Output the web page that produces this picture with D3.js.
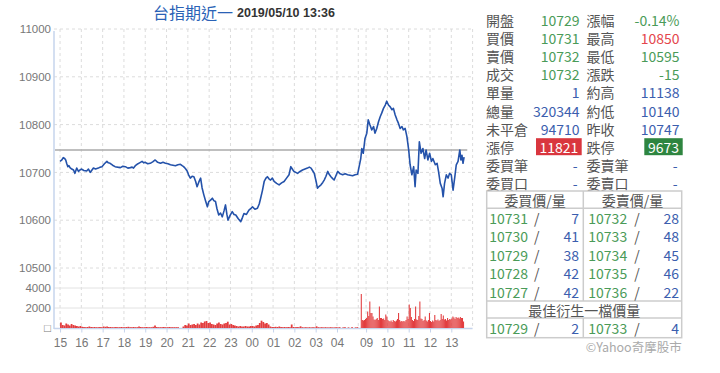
<!DOCTYPE html>
<html>
<head>
<meta charset="utf-8">
<script src="https://cdn.jsdelivr.net/npm/d3@7"></script>
<style>
    body { margin: 0; background: #fff; }
    svg text { font-family: "Liberation Sans", Arial, sans-serif; }
    .cjk { font-family: "Noto Sans CJK TC", "Noto Sans CJK SC", sans-serif !important; }
    .axis text { fill: #777; font-size: 11.5px; }
    .axis line { stroke: #c6d4ec; }
    .axis path { display: none; }
</style>
</head>
<body>
<svg id="chart" width="720" height="373"></svg>
<script>
// ---- chart data ----
const titleName = "台指期近一";
const titleTime = "2019/05/10 13:36";

const nightHours = ["15", "16", "17", "18", "19", "20", "21", "22", "23", "00", "01", "02", "03", "04"];
const dayHours = ["09", "10", "11", "12", "13"];
const priceTicks = [10500, 10600, 10700, 10800, 10900, 11000];
const volumeTicks = [2000, 4000];
const prevClose = 10747;

// [minutes after 15:00, price]
const nightPrice = [
    [0, 10723], [5, 10726], [9, 10731], [13, 10729], [16, 10726], [19, 10718], [22, 10712], [25, 10714],
    [28, 10710], [33, 10707], [38, 10705], [42, 10698], [47, 10709], [52, 10702], [56, 10705], [61, 10707],
    [67, 10704], [75, 10703], [80, 10707], [85, 10700], [94, 10709], [100, 10707], [108, 10709], [113, 10711],
    [118, 10712], [125, 10718], [132, 10723], [136, 10720], [141, 10719], [148, 10715], [155, 10712], [162, 10711],
    [170, 10710], [177, 10713], [184, 10712], [191, 10709], [198, 10710], [203, 10711], [207, 10709], [212, 10714],
    [217, 10717], [224, 10720], [231, 10723], [236, 10720], [240, 10721], [247, 10718], [254, 10719], [261, 10722],
    [268, 10726], [275, 10721], [283, 10719], [290, 10721], [297, 10719], [304, 10718], [311, 10716], [318, 10715],
    [325, 10714], [332, 10716], [339, 10717], [344, 10714], [348, 10712], [353, 10708], [358, 10703], [362, 10695],
    [367, 10688], [372, 10692], [377, 10691], [382, 10681], [386, 10670], [391, 10680], [396, 10688], [400, 10668],
    [405, 10653], [410, 10640], [415, 10628], [419, 10639], [424, 10642], [429, 10646], [433, 10641], [438, 10639],
    [442, 10624], [447, 10611], [452, 10615], [457, 10607], [462, 10620], [466, 10632], [470, 10612], [473, 10600],
    [479, 10610], [485, 10618], [490, 10612], [495, 10611], [502, 10603], [509, 10597], [514, 10606], [518, 10614],
    [525, 10612], [532, 10621], [537, 10624], [542, 10628], [549, 10623], [556, 10625], [561, 10634], [565, 10646],
    [570, 10662], [575, 10681], [580, 10688], [584, 10691], [589, 10686], [593, 10684], [598, 10688], [603, 10681],
    [610, 10677], [617, 10674], [624, 10678], [631, 10681], [638, 10688], [645, 10695], [650, 10712], [655, 10706],
    [659, 10702], [664, 10700], [669, 10698], [676, 10702], [683, 10705], [690, 10707], [697, 10709], [702, 10711],
    [707, 10709], [712, 10703], [716, 10698], [721, 10682], [725, 10667], [730, 10671], [735, 10674], [740, 10679],
    [744, 10684], [749, 10692], [754, 10702], [758, 10696], [763, 10691], [768, 10687], [772, 10684], [777, 10693],
    [782, 10702], [789, 10697], [796, 10695], [803, 10697], [810, 10695], [817, 10694], [824, 10693], [831, 10695],
    [838, 10696]
];

// [minutes after 08:45, price]
const dayPrice = [
    [0, 10729], [3, 10750], [7, 10740], [12, 10771], [17, 10782], [21, 10810], [26, 10799], [31, 10789],
    [36, 10796], [40, 10782], [45, 10792], [50, 10806], [55, 10817], [59, 10824], [64, 10834], [69, 10841],
    [73, 10849], [78, 10841], [83, 10837], [88, 10831], [92, 10834], [97, 10820], [102, 10810], [106, 10803],
    [111, 10792], [116, 10796], [120, 10789], [125, 10792], [130, 10775], [135, 10747], [139, 10716], [144, 10695],
    [149, 10712], [153, 10670], [156, 10705], [161, 10698], [165, 10764], [170, 10740], [175, 10750], [180, 10729],
    [184, 10747], [189, 10726], [194, 10740], [199, 10723], [203, 10729], [210, 10716], [215, 10719], [219, 10702],
    [224, 10677], [229, 10667], [232, 10649], [236, 10677], [241, 10695], [246, 10688], [250, 10698], [255, 10695],
    [260, 10663], [265, 10691], [269, 10716], [274, 10723], [279, 10747], [282, 10726], [285, 10736], [288, 10719],
    [291, 10732]
];

// night volume, 5-minute bins from 15:00
const nightVolume = [
    550, 300, 250, 450, 350, 250, 400, 300, 250, 200, 150, 200,
    120, 100, 80, 100, 150, 100, 80, 100, 80, 80, 100, 80,
    150, 120, 150, 100, 100, 80, 80, 100, 80, 80, 100, 80,
    80, 100, 120, 80, 80, 100, 80, 80, 150, 100, 80, 80,
    100, 80, 80, 80, 120, 250, 100, 80, 80, 80, 100, 80,
    80, 100, 80, 80, 80, 80, 80, 0, 0, 150, 300, 250,
    450, 300, 350, 400, 300, 450, 350, 550, 500, 650, 700, 500,
    550, 400, 350, 300, 450, 550, 400, 350, 450, 500, 630, 350,
    400, 300, 250, 200, 150, 200, 150, 150, 200, 150, 150, 200,
    200, 150, 250, 300, 500, 730, 600, 450, 500, 350, 150, 100,
    100, 120, 100, 150, 100, 80, 100, 80, 100, 80, 350, 100,
    80, 100, 80, 170, 80, 60, 80, 60, 80, 60, 80, 60,
    170, 80, 60, 80, 60, 80, 60, 60, 80, 60, 60, 80,
    60, 80, 0, 60, 80, 0, 60, 0, 80, 0, 60, 80
];

// day volume, 3-minute bins from 08:45
const dayVolume = [
    3400, 800, 750, 800, 900, 1000, 1650, 1200, 2650, 1500, 1500, 1150,
    850, 800, 900, 1000, 800, 2150, 1000, 1000, 900, 950, 800, 1350,
    1150, 800, 700, 650, 750, 600, 800, 700, 650, 750, 900, 1500,
    800, 650, 700, 650, 700, 650, 800, 1150, 900, 2350, 2000, 1100,
    800, 700, 900, 2150, 850, 800, 1200, 2650, 950, 900, 700, 800,
    1150, 750, 650, 800, 1500, 700, 600, 750, 650, 1300, 800, 750,
    850, 700, 800, 1400, 900, 1250, 850, 900, 750, 1000, 800, 900,
    850, 950, 1150, 1050, 900, 1100, 1000, 1050, 950, 1100, 1000, 1000,
    650
];

// quote panel
const quoteLabels = [["開盤", "漲幅"], ["買價", "最高"], ["賣價", "最低"], ["成交", "漲跌"],
    ["單量", "約高"], ["總量", "約低"], ["未平倉", "昨收"]];
const quoteValues = [["10729", "-0.14%"], ["10731", "10850"], ["10732", "10595"], ["10732", "-15"],
    ["1", "11138"], ["320344", "10140"], ["94710", "10747"]];
// p: price vs previous close, c: signed change, n: plain number
const quoteKinds = [["p", "c"], ["p", "p"], ["p", "p"], ["p", "c"], ["n", "n"], ["n", "n"], ["n", "n"]];
const limitLabels = ["漲停", "跌停"];
const limitValues = ["11821", "9673"];
const orderLabels = [["委買筆", "委賣筆"], ["委買口", "委賣口"]];
const orderValues = [["-", "-"], ["-", "-"]];

const bookHeaders = ["委買價/量", "委賣價/量"];
const bidPrices = [10731, 10730, 10729, 10728, 10727];
const bidQty = [7, 41, 38, 42, 42];
const askPrices = [10732, 10733, 10734, 10735, 10736];
const askQty = [28, 48, 45, 46, 22];
const bestTitle = "最佳衍生一檔價量";
const bestBid = [10729, 2];
const bestAsk = [10733, 4];
const credit = "©Yahoo奇摩股市";

// ---- drawing ----
const NIGHT_MINUTES = 840;   // 15:00 -> 05:00
const DAY_START = 847;       // 08:45 on the shared time axis
const DAY_END = 1162;        // 14:00
const GREEN = "#4a9b58", RED = "#e4464c", BLUE = "#3b5eae", LABEL = "#555";

const svg = d3.select("#chart");

const x = d3.scaleLinear().domain([-17, DAY_END]).range([54, 472.6]);
const yPrice = d3.scaleLinear().domain([10500, 11000]).range([268, 29]);
const yVol = d3.scaleLinear().domain([0, 6000]).range([328, 268]);

const hourTicks = nightHours.map((h, i) => ({ t: i * 60, label: h }))
    .concat(dayHours.map((h, i) => ({ t: DAY_START + 15 + i * 60, label: h })));
const gridTimes = hourTicks.map(d => d.t).concat([NIGHT_MINUTES, DAY_END]);

// grid
const grid = svg.append("g");
grid.selectAll(".vgrid")
    .data(gridTimes)
    .join("line")
    .attr("x1", d => x(d)).attr("x2", d => x(d))
    .attr("y1", yPrice(11000)).attr("y2", yVol(0))
    .attr("stroke", "#dcdcdc").attr("stroke-dasharray", "3,3");

grid.selectAll(".hgrid")
    .data(priceTicks)
    .join("line")
    .attr("x1", x.range()[0]).attr("x2", x.range()[1])
    .attr("y1", d => yPrice(d)).attr("y2", d => yPrice(d))
    .attr("stroke", "#dcdcdc").attr("stroke-dasharray", "3,3");

grid.selectAll(".vgridline")
    .data(volumeTicks)
    .join("line")
    .attr("x1", x.range()[0]).attr("x2", x.range()[1])
    .attr("y1", d => yVol(d)).attr("y2", d => yVol(d))
    .attr("stroke", "#e2e2e2");

// axes
svg.append("g")
    .attr("class", "axis")
    .attr("transform", `translate(${x.range()[0]},0)`)
    .call(d3.axisLeft(yPrice).tickValues(priceTicks).tickSize(0).tickPadding(3).tickFormat(d3.format("d")));

svg.append("g")
    .attr("class", "axis")
    .attr("transform", `translate(${x.range()[0]},0)`)
    .call(d3.axisLeft(yVol).tickValues(volumeTicks.concat([0])).tickSize(0).tickPadding(3)
        .tickFormat(d => d === 0 ? "□" : d));

svg.append("g")
    .attr("class", "axis")
    .attr("transform", `translate(0,${yVol(0) + 0.5})`)
    .call(d3.axisBottom(x).tickValues(hourTicks.map(d => d.t)).tickSize(4).tickPadding(6)
        .tickFormat((d, i) => hourTicks[i].label))
    .selectAll("text").style("font-size", "12px");

svg.append("line")
    .attr("x1", x.range()[0]).attr("x2", x.range()[0])
    .attr("y1", yPrice(11000) + 2).attr("y2", yVol(0) + 1)
    .attr("stroke", "#c6d4ec").attr("stroke-width", 1.5);
svg.append("line")
    .attr("x1", x.range()[0]).attr("x2", x.range()[1])
    .attr("y1", yVol(0) + 0.5).attr("y2", yVol(0) + 0.5)
    .attr("stroke", "#c6d4ec").attr("stroke-width", 1.5);

// volume bars
const volBars = nightVolume.map((v, i) => ({ t0: i * 5, t1: i * 5 + 5, v }))
    .concat(dayVolume.map((v, i) => ({ t0: DAY_START + i * 3, t1: DAY_START + i * 3 + 3, v })));

svg.append("g")
    .selectAll("rect")
    .data(volBars.filter(d => d.v > 0))
    .join("rect")
    .attr("x", d => x(d.t0))
    .attr("width", d => x(d.t1) - x(d.t0))
    .attr("y", d => yVol(d.v))
    .attr("height", d => yVol(0) - yVol(d.v))
    .attr("fill", "#e23d3f");

// previous close
svg.append("line")
    .attr("x1", x.range()[0] + 1).attr("x2", x(DAY_START + 300))
    .attr("y1", yPrice(prevClose)).attr("y2", yPrice(prevClose))
    .attr("stroke", "#aaa").attr("stroke-width", 1.5);

// price line
const pricePoints = nightPrice.map(d => [d[0], d[1]])
    .concat(dayPrice.map(d => [DAY_START + d[0], d[1]]));

svg.append("path")
    .datum(pricePoints)
    .attr("fill", "none")
    .attr("stroke", "#2452aa")
    .attr("stroke-width", 1.6)
    .attr("stroke-linejoin", "round")
    .attr("d", d3.line().x(d => x(d[0])).y(d => yPrice(d[1])));

// title
svg.append("text")
    .attr("class", "cjk")
    .attr("x", 153).attr("y", 12)
    .attr("dominant-baseline", "central")
    .attr("fill", "#2a62b6")
    .style("font-size", "16px")
    .text(titleName);
svg.append("text")
    .attr("x", 237).attr("y", 12.5)
    .attr("dominant-baseline", "central")
    .attr("fill", "#333")
    .style("font-size", "12.5px")
    .style("font-weight", "bold")
    .text(titleTime);

// quote panel
function valueColor(kind, value) {
    if (kind === "n") return BLUE;
    const num = parseFloat(value);
    if (kind === "c") return num < 0 ? GREEN : num > 0 ? RED : LABEL;
    return num < prevClose ? GREEN : num > prevClose ? RED : LABEL;
}

const panel = svg.append("g").attr("class", "panel");
const rowY = i => 20 + i * 18.1;
const colLabel = [486, 586.5];
const colValue = [579.5, 679.5];

function panelText(px, py, txt, color, anchor) {
    return panel.append("text")
        .attr("class", "cjk")
        .attr("x", px).attr("y", py)
        .attr("dominant-baseline", "central")
        .attr("text-anchor", anchor || "start")
        .attr("fill", color)
        .style("font-size", "14px")
        .text(txt);
}

quoteLabels.forEach((row, i) => {
    row.forEach((lab, j) => {
        panelText(colLabel[j], rowY(i), lab, LABEL);
        panelText(colValue[j], rowY(i), quoteValues[i][j], valueColor(quoteKinds[i][j], quoteValues[i][j]), "end");
    });
});

const limitBoxes = [[536, 581.7, "#d9363e"], [644.3, 682.7, "#2e8540"]];
limitLabels.forEach((lab, j) => {
    const yy = rowY(7);
    panelText(colLabel[j], yy, lab, LABEL);
    panel.append("rect")
        .attr("x", limitBoxes[j][0]).attr("y", yy - 8.5)
        .attr("width", limitBoxes[j][1] - limitBoxes[j][0]).attr("height", 17)
        .attr("fill", limitBoxes[j][2]);
    panelText((limitBoxes[j][0] + limitBoxes[j][1]) / 2, yy, limitValues[j], "#fff", "middle");
});

orderLabels.forEach((row, i) => {
    row.forEach((lab, j) => {
        panelText(colLabel[j], rowY(8 + i), lab, LABEL);
        panelText(colValue[j] - 2, rowY(8 + i), orderValues[i][j], BLUE, "end");
    });
});

// order book table
const tx0 = 486.7, txm = 583.3, tx1 = 681.7;
const headTop = 191, headBottom = 208.3, bookBottom = 301, bestBottom = 318, tableBottom = 337.7;
const bookRowH = (bookBottom - headBottom) / bidPrices.length;
const border = "#cccccc";

const tbl = panel.append("g");
tbl.append("rect")
    .attr("x", tx0).attr("y", headTop)
    .attr("width", tx1 - tx0).attr("height", tableBottom - headTop)
    .attr("fill", "none").attr("stroke", border).attr("stroke-width", 1.5);
[headBottom, bookBottom, bestBottom].forEach(yy => {
    tbl.append("line").attr("x1", tx0).attr("x2", tx1).attr("y1", yy).attr("y2", yy)
        .attr("stroke", border).attr("stroke-width", 1.5);
});
[[headTop, bookBottom], [bestBottom, tableBottom]].forEach(seg => {
    tbl.append("line").attr("x1", txm).attr("x2", txm).attr("y1", seg[0]).attr("y2", seg[1])
        .attr("stroke", border).attr("stroke-width", 1.5);
});

panelText((tx0 + txm) / 2, (headTop + headBottom) / 2, bookHeaders[0], LABEL, "middle");
panelText((txm + tx1) / 2, (headTop + headBottom) / 2, bookHeaders[1], LABEL, "middle");

function bookRow(yy, bid, bq, ask, aq) {
    panelText(tx0 + 2.5, yy, bid, valueColor("p", bid));
    panelText(536.7, yy, "/", LABEL, "middle");
    panelText(579, yy, bq, BLUE, "end");
    panelText(txm + 5, yy, ask, valueColor("p", ask));
    panelText(637, yy, "/", LABEL, "middle");
    panelText(679, yy, aq, BLUE, "end");
}

bidPrices.forEach((p, i) => {
    bookRow(headBottom + bookRowH * (i + 0.5), p, bidQty[i], askPrices[i], askQty[i]);
});

panelText((tx0 + tx1) / 2, (bookBottom + bestBottom) / 2, bestTitle, LABEL, "middle");
bookRow((bestBottom + tableBottom) / 2, bestBid[0], bestBid[1], bestAsk[0], bestAsk[1]);

panelText(tx1, 346.5, credit, "#aaa", "end").style("font-size", "12.5px");
</script>
</body>
</html>
